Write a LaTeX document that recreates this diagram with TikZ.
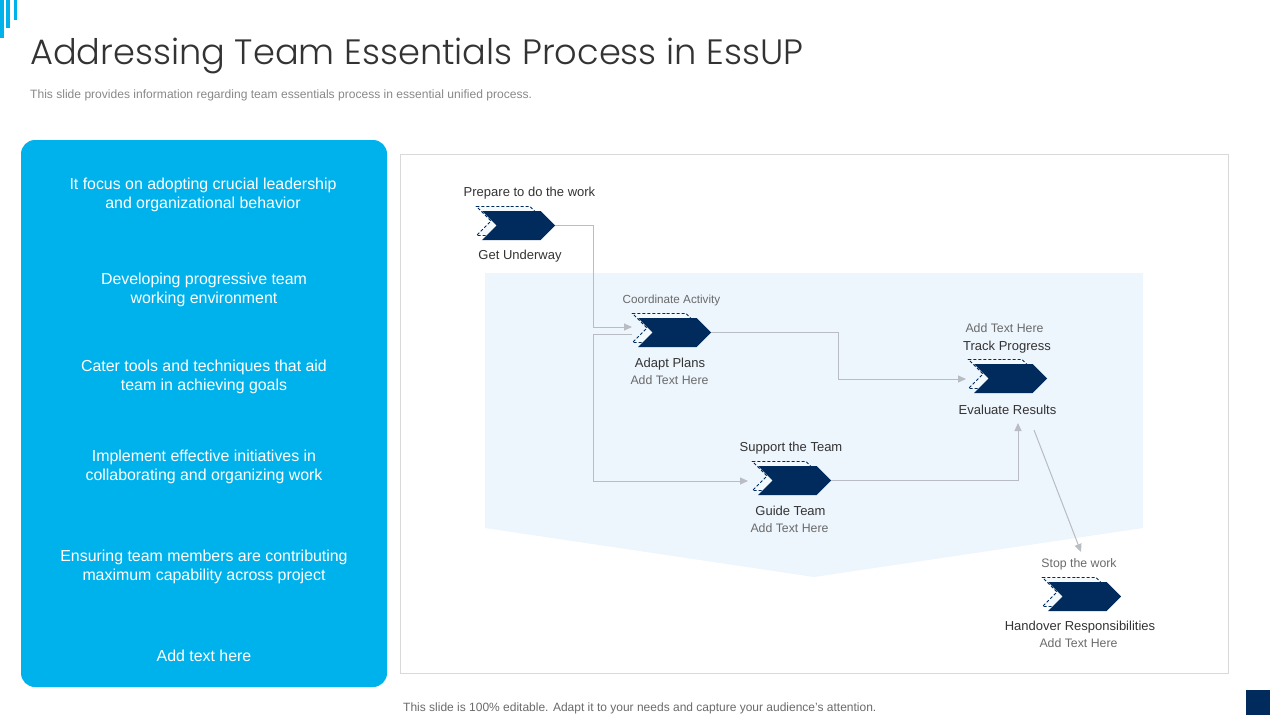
\documentclass[tikz,border=0pt]{standalone}
\usepackage{fontspec}
\setmainfont{Liberation Sans}
\newfontfamily\titlefont{Poppins Light}
\usetikzlibrary{shapes.symbols, arrows.meta}
\definecolor{skyblue}{HTML}{00B2EC}
\definecolor{navy}{HTML}{002B5C}
\definecolor{paleblue}{HTML}{EDF5FD}
\definecolor{linegray}{HTML}{B9BCC2}
\definecolor{textdark}{HTML}{333333}
\definecolor{textgray}{HTML}{6A6A6A}
\begin{document}
\begin{tikzpicture}[x=1pt, y=-1pt, node distance={30.5pt},
	chevron/.style = {signal, signal from=west, signal to=east, fill=navy, inner sep=0pt, outer sep=0pt, minimum width=73pt, minimum height=29pt},
	ghost/.style = {signal, signal from=west, signal to=east, draw=navy, dash pattern=on 3pt off 2pt, fill=paleblue!60, inner sep=0pt, outer sep=0pt, line width=0.9pt, minimum width=68pt, minimum height=29pt},
	dark/.style = {text=textdark, font=\fontsize{13}{15}\selectfont, inner sep=0pt},
	soft/.style = {text=textgray, font=\fontsize{12.3}{15}\selectfont, inner sep=0pt},
	point/.style = {white, font=\fontsize{15.9}{19}\selectfont, align=center, inner sep=0pt},
	link/.style = {draw=linegray, line width=1pt, -{Triangle[length=8pt,width=7pt]}},
	plain/.style = {draw=linegray, line width=1pt}]
	\useasboundingbox (0,0) rectangle (1280,720);
	\fill[skyblue] (0,0) rectangle (4,38);
	\fill[skyblue] (6,0) rectangle (10,28);
	\fill[skyblue] (14,0) rectangle (17,20);
	\node[anchor=west, inner sep=0pt, text=textdark, font=\titlefont\fontsize{35.2}{40}\selectfont] (title) at (30,56) {Addressing Team Essentials Process in EssUP};
	\node[anchor=west, inner sep=0pt, text=textgray!80, font=\fontsize{12.07}{14}\selectfont] (sub) at (30,95) {This slide provides information regarding team essentials process in essential unified process.};
	\fill[skyblue, rounded corners=14pt] (21,140) rectangle (387,687);
	\node[point] (p1) at (203,195) {It focus on adopting crucial leadership\\and organizational behavior};
	\node[point] (p2) at (204,290) {Developing progressive team\\working environment};
	\node[point] (p3) at (204,377) {Cater tools and techniques that aid\\team in achieving goals};
	\node[point] (p4) at (204,467) {Implement effective initiatives in\\collaborating and organizing work};
	\node[point] (p5) at (204,567) {Ensuring team members are contributing\\maximum capability across project};
	\node[point] (p6) at (204,655.5) {Add text here};
	\draw[draw=black!15, line width=0.8pt] (400.5,154) rectangle (1228.5,673.5);
	\fill[paleblue] (485,273) -- (1143,273) -- (1143,528) -- (814,577) -- (485,528) -- cycle;
	\node[ghost] (Ag) at (510.5,221) {};
	\node[chevron] (A) at (518.5,225.5) {};
	\node[ghost] (Bg) at (666.5,328) {};
	\node[chevron] (B) at (674.5,332.5) {};
	\node[ghost] (Cg) at (1002.5,374) {};
	\node[chevron] (C) at (1010.5,378.5) {};
	\node[ghost] (Dg) at (786.5,476) {};
	\node[chevron] (D) at (794.5,480.5) {};
	\node[ghost] (Eg) at (1076.5,592) {};
	\node[chevron] (E) at (1084.5,596.5) {};
	\node[dark, xshift=11pt] (Atop) [above of=A, node distance=32.5pt] {Prepare to do the work};
	\node[dark, xshift=1.5pt] (Abot) [below of=A] {Get Underway};
	\node[soft, xshift=-3pt, font=\fontsize{11.7}{14}\selectfont] (Btop) [above of=B, node distance=32pt] {Coordinate Activity};
	\node[dark, xshift=-4.5pt] (Bbot) [below of=B, node distance=31.5pt] {Adapt Plans};
	\node[soft, xshift=-5pt] (Bsub) [below of=B, node distance=47.5pt] {Add Text Here};
	\node[soft, xshift=-6pt] (Ctop) [above of=C, node distance=50.5pt] {Add Text Here};
	\node[dark, xshift=-3.5pt] (Cmid) [above of=C, node distance=31pt] {Track Progress};
	\node[dark, xshift=-3pt] (Cbot) [below of=C, node distance=31.5pt] {Evaluate Results};
	\node[dark, xshift=-3.5pt] (Dtop) [above of=D, node distance=32pt] {Support the Team};
	\node[dark, xshift=-4pt] (Dbot) [below of=D] {Guide Team};
	\node[soft, xshift=-5pt] (Dsub) [below of=D, node distance=47.5pt] {Add Text Here};
	\node[soft, xshift=-5.5pt] (Etop) [above of=E, node distance=32pt] {Stop the work};
	\node[dark, xshift=-4.5pt] (Ebot) [below of=E, node distance=31pt] {Handover Responsibilities};
	\node[soft, xshift=-6pt] (Esub) [below of=E, node distance=47pt] {Add Text Here};
	\coordinate (Ain) at (632,327);
	\coordinate (Bout) at (632,334);
	\coordinate (Dup) at (1018,423);
	\coordinate (Cfrom) at (1034,430);
	\coordinate (Eto) at (1081,552);
	\coordinate (Din) at (748,481);
	\coordinate (Cin) at (966,379);
	\draw[link] (A.east) -- (593,225.5) -- (593,327) -- (Ain);
	\draw[plain] (Bout) -- (593,334) -- (593,481);
	\draw[link] (593,481) -- (Din);
	\draw[link] (B.east) -- (838,332.5) -- (838,379) -- (Cin);
	\draw[link] (D.east) -- (1018,480.5) -- (Dup);
	\draw[link] (Cfrom) -- (Eto);
	\fill[navy] (1246,690) rectangle (1270,715);
	\node[anchor=west, inner sep=0pt, text=textgray, font=\fontsize{12}{14}\selectfont] (foot) at (403,708) {This slide is 100\% editable. Adapt it to your needs and capture your audience's attention.};
\end{tikzpicture}
\end{document}
